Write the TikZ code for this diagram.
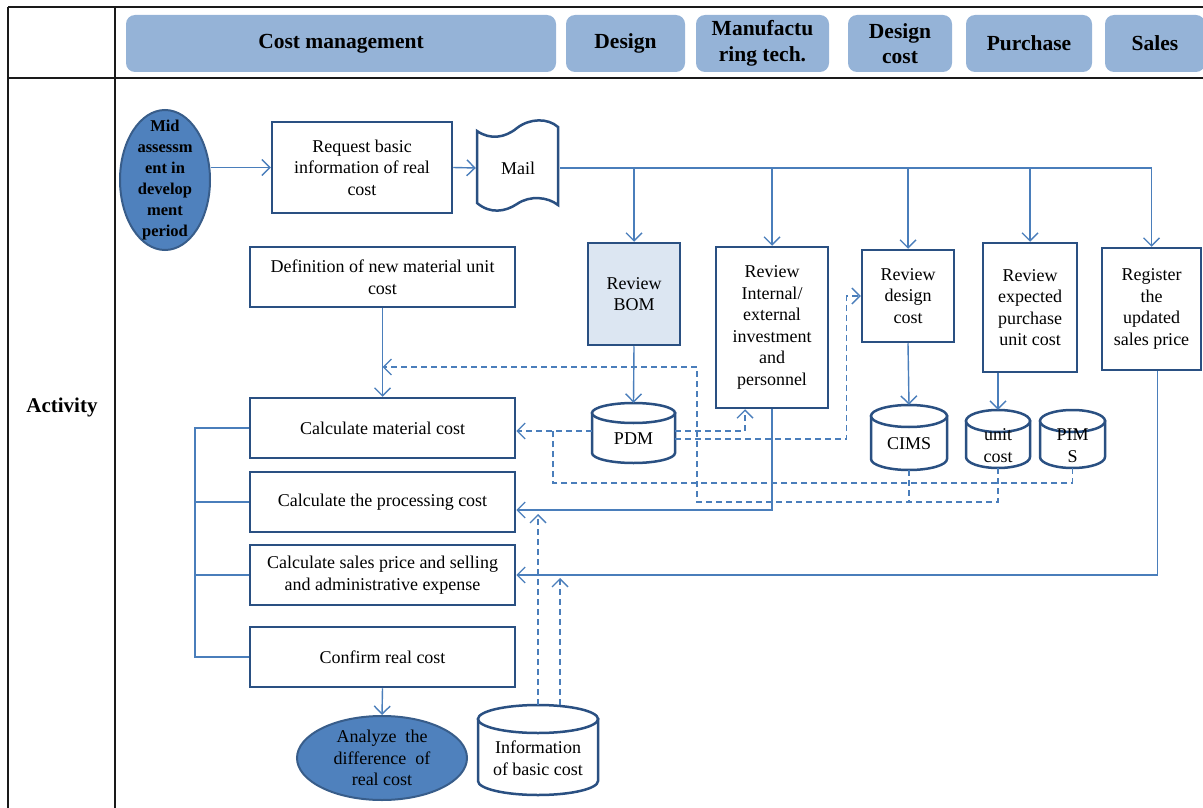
\documentclass[tikz,border=0pt]{standalone}
\usepackage{fontspec}
\setmainfont{Liberation Serif}
\usetikzlibrary{shapes.geometric,arrows.meta,calc}
\definecolor{bx}{HTML}{2A5082}
\definecolor{cn}{HTML}{4A7EBB}
\definecolor{pillc}{HTML}{95B3D7}
\definecolor{elf}{HTML}{4F81BD}
\definecolor{eld}{HTML}{385D8A}
\definecolor{bomf}{HTML}{DCE6F2}
\definecolor{tbl}{HTML}{1A1A1A}
\newcommand\fs{\fontsize{18}{21.5}\selectfont}
\newcommand\hf{\fontsize{21.5}{25.5}\selectfont\bfseries}
\newcommand\dbcyl[7]{% name, cx, cy, w, h, ry, text
  \node[minimum width=#4pt, minimum height=#5pt, inner sep=0pt] (#1) at (#2,#3) {};
  \pgfmathsetmacro\myCa{#4/2}\pgfmathsetmacro\myCb{#5/2}\pgfmathsetmacro\myCk{0.5523*#4/2}\pgfmathsetmacro\myCr{#6}\pgfmathsetmacro\myCrk{#6*0.4477}
  \begin{scope}[shift={(#2,#3)}]
    \draw[bxline, fill=white] ({-\myCa},{-\myCb+\myCr}) -- ({-\myCa},{\myCb-\myCr}) .. controls ({-\myCa},{\myCb-\myCrk}) and ({-\myCk},{\myCb}) .. (0,\myCb) .. controls (\myCk,\myCb) and (\myCa,{\myCb-\myCrk}) .. (\myCa,{\myCb-\myCr}) -- (\myCa,{-\myCb+\myCr}) -- cycle;
    \draw[bxline, fill=white] (0,{-\myCb+\myCr}) ellipse [x radius=\myCa, y radius=\myCr];
  \end{scope}
  \node[txt] (#1t) at (#2,{#3+#6/2+1}) {#7};
}
\begin{document}
\begin{tikzpicture}[x=1pt,y=-1pt,
  box/.style={draw=bx, line width=2.5pt, fill=white, align=center, font=\fs, inner sep=1pt},
  bxline/.style={draw=bx, line width=2.5pt},
  pill/.style={fill=pillc, rounded corners=9pt, font=\hf, align=center, inner sep=0pt},
  con/.style={draw=cn, line width=1.4pt},
  arr/.style={con, -{Straight Barb[length=8pt,width=16pt,line width=1.4pt]}},
  dsh/.style={con, dash pattern=on 6pt off 4pt},
  darr/.style={dsh, -{Straight Barb[length=8pt,width=16pt,line width=1.4pt]}},
  tline/.style={draw=tbl, line width=1.6pt},
  txt/.style={font=\fs, align=center, inner sep=0pt},
]
\useasboundingbox (0,0) rectangle (1203,808);
\clip (0,0) rectangle (1203,808);

% table frame
\draw[tline] (8,7) -- (1203,7);
\draw[tline] (8,78) -- (1203,78);
\draw[tline] (8,7) -- (8,808);
\draw[tline, line width=2.4pt] (115,7) -- (115,808);

% header pills
\node[pill, minimum width=430pt, minimum height=57pt] (hcm) at (341,43.5) {Cost management};
\node[pill, minimum width=119pt, minimum height=57pt] (hds) at (625.5,43.5) {Design};
\node[pill, minimum width=133pt, minimum height=57pt] (hmt) at (762.5,43.5) {Manufactu\\ring tech.};
\node[pill, minimum width=104pt, minimum height=57pt] (hdc) at (900,43.5) {Design\\cost};
\node[pill, minimum width=126pt, minimum height=57pt] (hpu) at (1029,43.5) {Purchase};
\node[pill, minimum width=100pt, minimum height=57pt] (hsa) at (1155,43.5) {Sales};

\node[font=\fontsize{21}{25}\selectfont\bfseries] (act) at (62,407) {Activity};

% start ellipse
\node[ellipse, fill=elf, draw=eld, line width=2pt, minimum width=90pt, minimum height=140pt] (mid) at (165,180) {};
\node[font=\fontsize{16.5}{21}\selectfont\bfseries, align=center, inner sep=0pt] (midt) at (165,180) {Mid\\assessm\\ent in\\develop\\ment\\period};

% boxes
\node[box, minimum width=180pt, minimum height=91pt] (req) at (362,167.5) {Request basic\\information of real\\cost};

\node[minimum width=84pt, minimum height=93pt, inner sep=0pt] (mail) at (518,168) {};
\draw[bxline, fill=white] (477,131) .. controls (490,140) and (505,138) .. (517,128) .. controls (530,118) and (548,118) .. (558,127) -- (558,205) .. controls (548,197) and (530,195) .. (517,204) .. controls (505,212) and (490,214) .. (477,203) -- cycle;
\node[txt] (mailt) at (518,168) {Mail};

\node[box, minimum width=265pt, minimum height=60pt] (def) at (382.5,277) {Definition of new material unit\\cost};
\node[box, fill=bomf, minimum width=92pt, minimum height=102pt] (bom) at (634,294) {Review\\BOM};
\node[box, minimum width=112pt, minimum height=161pt] (rint) at (772,327.5) {Review\\Internal/\\external\\investment\\and\\personnel};
\node[box, minimum width=92pt, minimum height=92pt] (rdc) at (908,296) {Review\\design\\cost};
\node[box, minimum width=94pt, minimum height=129pt] (pur) at (1030,307.5) {Review\\expected\\purchase\\unit cost};
\node[box, minimum width=99pt, minimum height=122pt] (reg) at (1151.5,309) {Register\\the\\updated\\sales price};

\node[box, minimum width=265pt, minimum height=60pt] (calcmat) at (382.5,428) {Calculate material cost};
\node[box, minimum width=265pt, minimum height=60pt] (proc) at (382.5,502) {Calculate the processing cost};
\node[box, minimum width=265pt, minimum height=60pt] (sales) at (382.5,575) {Calculate sales price and selling\\and administrative expense};
\node[box, minimum width=265pt, minimum height=60pt] (confirm) at (382.5,657) {Confirm real cost};

\node[ellipse, fill=elf, draw=eld, line width=2pt, minimum width=170pt, minimum height=84pt] (ana) at (382,758) {};
\node[txt] (anat) at (382,758) {Analyze\ \ the\\difference\ \ of\\real cost};

% databases
\dbcyl{pdm}{633.5}{433}{83}{60}{10}{PDM}
\dbcyl{cims}{909}{437.5}{76}{65}{11}{CIMS}
\dbcyl{uc}{998}{439}{64}{58}{11}{unit\\cost}
\dbcyl{pims}{1072.5}{439}{65}{58}{11}{PIM\\S}
\dbcyl{info}{538}{750}{120}{90}{14}{Information\\of basic cost}

% solid connectors
\draw[arr] (req.west -| mid.east) -- (req.west);
\draw[arr] (req.east) -- (mail.west);
\draw[con] (mail.east) -- (mail.east -| reg.north);
\draw[arr] (mail.east -| bom.north) -- (bom.north);
\draw[arr] (mail.east -| rint.north) -- (rint.north);
\draw[arr] (mail.east -| rdc.north) -- (rdc.north);
\draw[arr] (mail.east -| pur.north) -- (pur.north);
\draw[arr] (mail.east -| reg.north) -- (reg.north);
\draw[arr] (bom.south) -- (pdm.north);
\draw[arr] (rdc.south) -- (cims.north);
\draw[arr] (pur.south -| uc.north) -- (uc.north);
\draw[arr] (def.south) -- (calcmat.north);
\draw[arr] (confirm.south) -- (ana.north);
\coordinate (pin) at ([yshift=-8pt]proc.east);
\draw[arr] (rint.south) |- (pin);
\draw[arr] ([xshift=6pt]reg.south) |- (sales.east);
\coordinate (bk) at (195,0);
\draw[con] (calcmat.west) -- (calcmat.west -| bk) -- (confirm.west -| bk) -- (confirm.west);
\draw[con] (proc.west) -- (proc.west -| bk);
\draw[con] (sales.west) -- (sales.west -| bk);

% dashed connectors
\coordinate (dy) at (697,502);
\coordinate (d3) at (697,367);
\draw[darr] (uc.south) -- (uc.south |- dy) -- (dy) -- (d3) -- (def.south |- d3);
\draw[dsh] (cims.south) -- (cims.south |- dy);
\coordinate (pw) at ([yshift=2pt]pdm.west);
\coordinate (a1) at (553,483);
\draw[darr] (pw) -- (pw -| calcmat.east);
\draw[dsh] (pims.south) -- (pims.south |- a1) -- (a1) -- (a1 |- pw);
\coordinate (pe1) at ([yshift=2pt]pdm.east);
\draw[darr] (pe1) -| ([xshift=-27pt]rint.south);
\coordinate (pe2) at ([yshift=-6pt]pdm.east);
\draw[darr] (pe2) -| ([xshift=-14pt]rdc.west) -- (rdc.west);
\coordinate (e1) at (538,514);
\coordinate (e2) at (560,578);
\draw[darr] (info.north) -- (info.north |- e1);
\draw[darr] (e2 |- info.north) -- (e2);
\end{tikzpicture}
\end{document}
